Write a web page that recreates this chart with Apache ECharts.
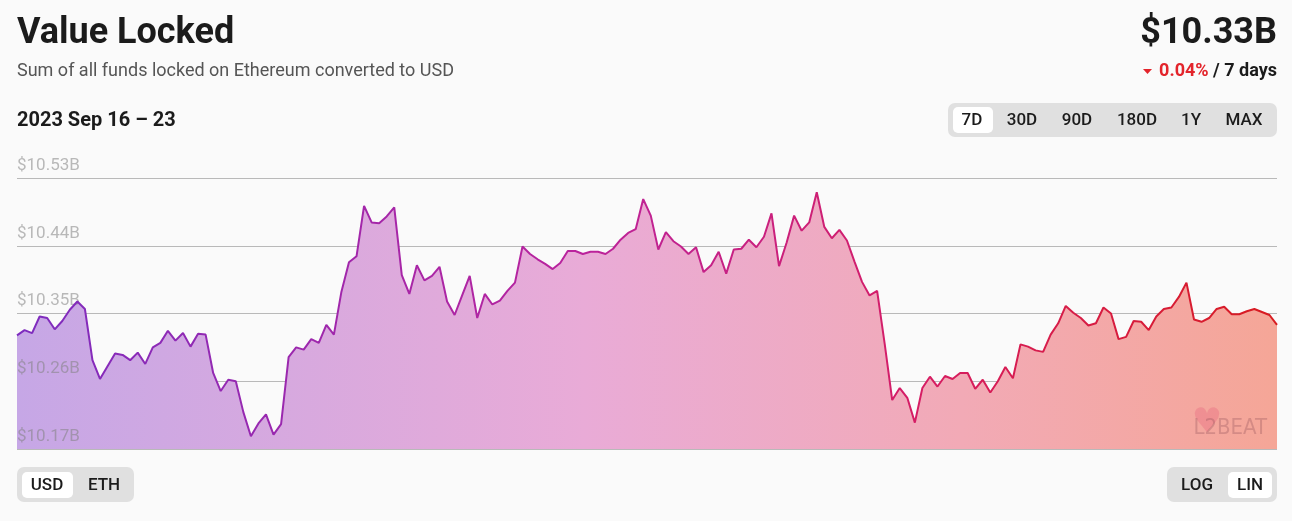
<!DOCTYPE html>
<html>
<head>
<meta charset="utf-8">
<title>Value Locked</title>
<script src="https://cdn.jsdelivr.net/npm/echarts@6/dist/echarts.min.js"></script>
<style>
html, body { margin: 0; padding: 0; background: #fafafa; }
#chart { width: 1292px; height: 521px; }
</style>
</head>
<body>
<div id="chart"></div>
<script>
// hourly TVL, 2023 Sep 16 - 23, in $B
let tvlValues = [
  10.321, 10.328, 10.324, 10.346, 10.344, 10.329, 10.340, 10.355, 10.366, 10.356,
  10.288, 10.263, 10.280, 10.297, 10.295, 10.288, 10.298, 10.283, 10.305, 10.311,
  10.327, 10.314, 10.324, 10.306, 10.323, 10.322, 10.271, 10.247, 10.262, 10.260,
  10.219, 10.187, 10.204, 10.216, 10.189, 10.203, 10.292, 10.305, 10.302, 10.316,
  10.311, 10.335,
  10.322, 10.379, 10.418, 10.426, 10.493, 10.471, 10.470, 10.479, 10.491, 10.401,
  10.376, 10.414, 10.394, 10.400, 10.412, 10.366, 10.348, 10.374, 10.400, 10.344,
  10.376, 10.362, 10.367, 10.380, 10.391, 10.439, 10.429, 10.422, 10.416, 10.409,
  10.417, 10.433, 10.433, 10.429, 10.432, 10.432, 10.429, 10.436, 10.448, 10.457,
  10.462,
  10.502, 10.480, 10.435, 10.458, 10.446, 10.439, 10.429, 10.438, 10.405, 10.414,
  10.432, 10.403, 10.435, 10.436, 10.448, 10.438, 10.452, 10.483, 10.413, 10.444,
  10.480, 10.460, 10.471, 10.511, 10.465, 10.450, 10.461, 10.447, 10.419, 10.392,
  10.374, 10.380, 10.310, 10.235, 10.251, 10.238, 10.205, 10.251, 10.266, 10.253,
  10.267, 10.263,
  10.271, 10.271, 10.250, 10.262, 10.245, 10.260, 10.279, 10.264, 10.309, 10.306,
  10.301, 10.299, 10.322, 10.337, 10.360, 10.351, 10.344, 10.334, 10.337, 10.358,
  10.350, 10.316, 10.319, 10.340, 10.339, 10.328, 10.346, 10.356, 10.358, 10.372,
  10.391, 10.342, 10.339, 10.344, 10.356, 10.359, 10.349, 10.349, 10.353, 10.356,
  10.352, 10.348, 10.335
];
let hours = tvlValues.map((v, i) => i);
let yMin = 10.17;
let yMax = 10.53;
let yStep = 0.09;
let rangeButtons = ['7D', '30D', '90D', '180D', '1Y', 'MAX'];
let rangeX = [972, 1022, 1077, 1137, 1191, 1244];

let font = 'Roboto, "Noto Sans", sans-serif';
let oChart = echarts.init(document.getElementById('chart'));

let g = [];
// header texts
g.push({ type: 'text', left: 17, top: 16, style: { text: 'Value Locked', font: 'bold 36px ' + font, fill: '#1b1b1b' } });
g.push({ type: 'text', left: 17, top: 62, style: { text: 'Sum of all funds locked on Ethereum converted to USD', font: '18px ' + font, fill: '#555' } });
g.push({ type: 'text', left: 17, top: 111, style: { text: '2023 Sep 16 \u2013 23', font: 'bold 20px ' + font, fill: '#1b1b1b' } });
g.push({ type: 'text', right: 15, top: 16, style: { text: '$10.33B', font: 'bold 36px ' + font, fill: '#1b1b1b' } });
g.push({ type: 'text', right: 15, top: 62, style: {
  text: '{r|0.04%}{k| / 7 days}',
  rich: {
    r: { font: 'bold 18px ' + font, fill: '#e3242b' },
    k: { font: 'bold 18px ' + font, fill: '#1b1b1b' }
  }
} });
g.push({ type: 'polygon', shape: { points: [[1143, 69], [1152, 69], [1147.5, 74]] }, style: { fill: '#e3242b' } });

// range buttons
g.push({ type: 'rect', shape: { x: 948, y: 103, width: 329, height: 34, r: 7 }, style: { fill: '#e0e0e0' } });
g.push({ type: 'rect', shape: { x: 953, y: 107, width: 40, height: 26, r: 5 }, style: { fill: '#fff' } });
rangeButtons.forEach((t, i) => {
  g.push({ type: 'text', x: rangeX[i], y: 121, style: { text: t, font: '500 17px ' + font, fill: '#1b1b1b', align: 'center', verticalAlign: 'middle' } });
});

// unit / scale toggles
g.push({ type: 'rect', shape: { x: 17, y: 467, width: 117, height: 35, r: 7 }, style: { fill: '#e0e0e0' } });
g.push({ type: 'rect', shape: { x: 22, y: 472, width: 51, height: 26, r: 5 }, style: { fill: '#fff' } });
g.push({ type: 'text', x: 47, y: 486, style: { text: 'USD', font: '500 17px ' + font, fill: '#1b1b1b', align: 'center', verticalAlign: 'middle' } });
g.push({ type: 'text', x: 104, y: 486, style: { text: 'ETH', font: '500 17px ' + font, fill: '#1b1b1b', align: 'center', verticalAlign: 'middle' } });
g.push({ type: 'rect', shape: { x: 1167, y: 467, width: 110, height: 35, r: 7 }, style: { fill: '#e0e0e0' } });
g.push({ type: 'rect', shape: { x: 1228, y: 472, width: 44, height: 26, r: 5 }, style: { fill: '#fff' } });
g.push({ type: 'text', x: 1197, y: 486, style: { text: 'LOG', font: '500 17px ' + font, fill: '#1b1b1b', align: 'center', verticalAlign: 'middle' } });
g.push({ type: 'text', x: 1250, y: 486, style: { text: 'LIN', font: '500 17px ' + font, fill: '#1b1b1b', align: 'center', verticalAlign: 'middle' } });

// watermark
g.push({ type: 'text', x: 1207, y: 423, z: 10, style: { text: '\u2665', font: '34px "DejaVu Sans"', fill: 'rgba(230,90,120,0.3)', align: 'center', verticalAlign: 'middle' } });
g.push({ type: 'text', x: 1267, y: 428, z: 11, style: { text: 'L2BEAT', font: '22px "DejaVu Sans Condensed", ' + font, fill: 'rgba(130,70,80,0.28)', align: 'right', verticalAlign: 'middle' } });

let option = {
  backgroundColor: '#fafafa',
  animation: false,
  grid: { left: 17, right: 15, top: 178, bottom: 72 },
  xAxis: {
    type: 'category',
    data: hours,
    boundaryGap: false,
    show: false
  },
  yAxis: {
    type: 'value',
    min: yMin,
    max: yMax,
    interval: yStep,
    z: 3,
    axisLine: { show: false },
    axisTick: { show: false },
    splitLine: { lineStyle: { color: 'rgba(120,120,120,0.5)', width: 1 } },
    axisLabel: {
      inside: true,
      margin: 0,
      verticalAlign: 'bottom',
      padding: [0, 0, 4, 0],
      color: 'rgba(130,130,130,0.55)',
      fontFamily: font,
      fontSize: 17,
      formatter: v => '$' + v.toFixed(2) + 'B'
    }
  },
  series: [{
    type: 'line',
    data: tvlValues,
    symbol: 'none',
    lineStyle: {
      width: 2,
      color: new echarts.graphic.LinearGradient(0, 0, 1, 0, [
        { offset: 0, color: '#7d2cbf' },
        { offset: 0.45, color: '#bb239c' },
        { offset: 0.72, color: '#d61d63' },
        { offset: 1, color: '#d81b1f' }
      ])
    },
    areaStyle: {
      opacity: 1,
      color: new echarts.graphic.LinearGradient(0, 0, 1, 0, [
        { offset: 0, color: '#c6a7e6' },
        { offset: 0.45, color: '#e9abd7' },
        { offset: 0.75, color: '#f2aab6' },
        { offset: 1, color: '#f5a697' }
      ])
    }
  }],
  graphic: g
};
oChart.setOption(option);
</script>
</body>
</html>
